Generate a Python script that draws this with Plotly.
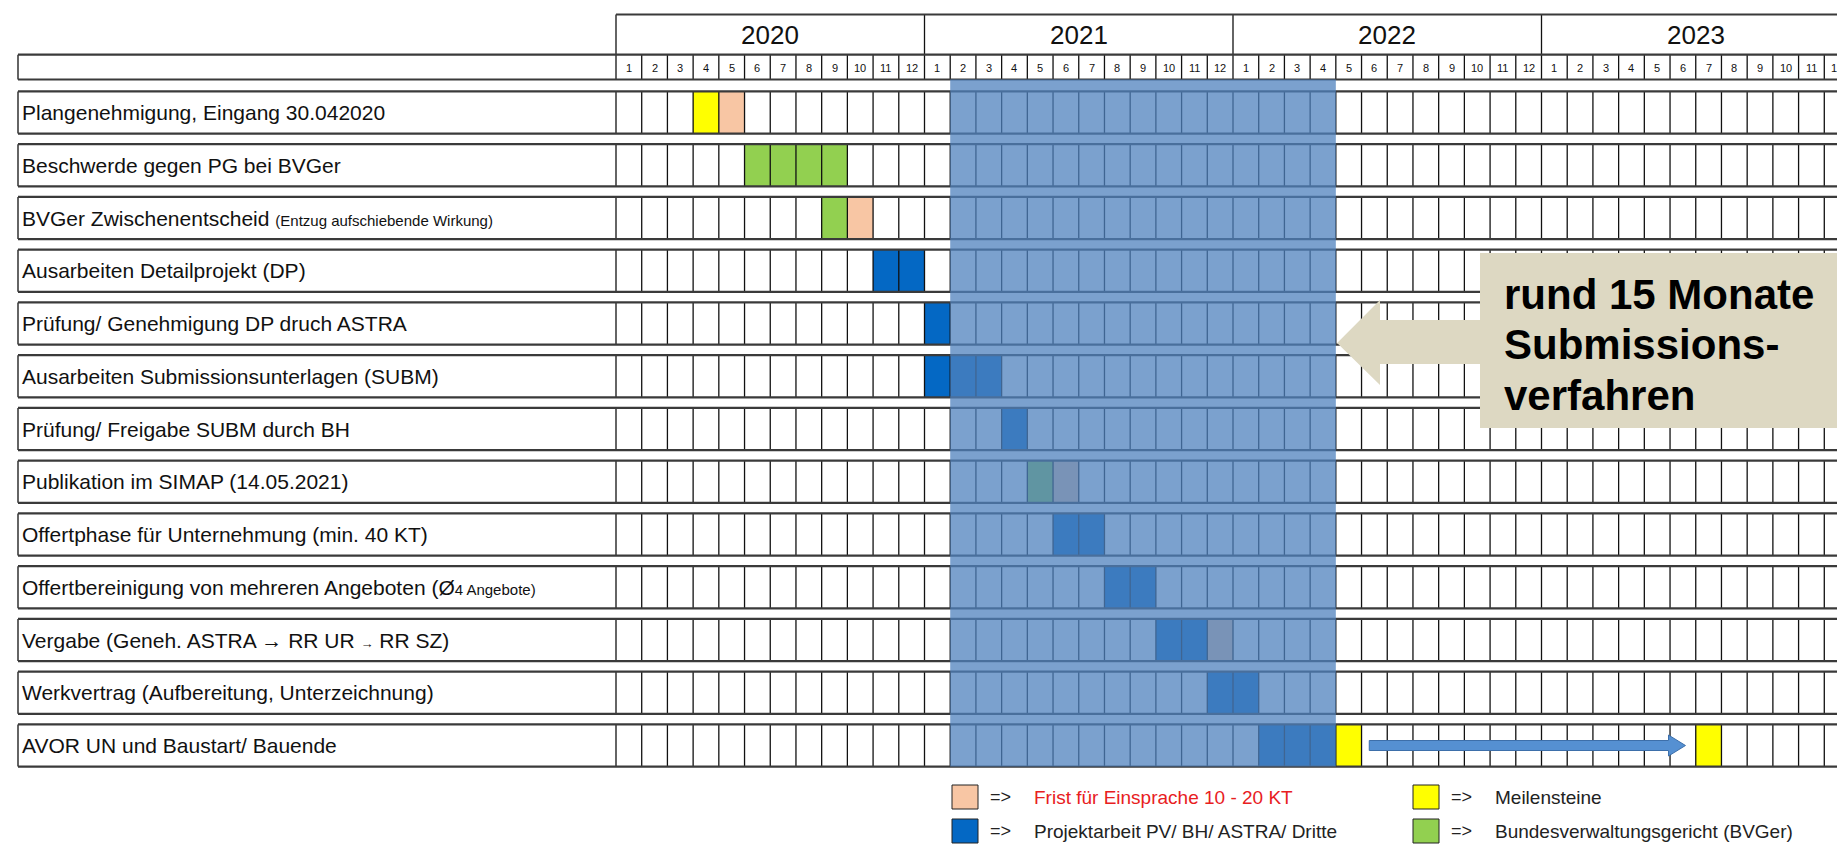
import plotly.graph_objects as go

# ---------------- data ----------------
years = ["2020", "2021", "2022", "2023"]
month_labels = [str(m) for m in range(1, 13)] * 4

tasks = [
    "Plangenehmigung, Eingang 30.042020",
    "Beschwerde gegen PG bei BVGer",
    "BVGer Zwischenentscheid <span style='font-size:15px'>(Entzug aufschiebende Wirkung)</span>",
    "Ausarbeiten Detailprojekt (DP)",
    "Prüfung/ Genehmigung DP druch ASTRA",
    "Ausarbeiten Submissionsunterlagen (SUBM)",
    "Prüfung/ Freigabe SUBM durch BH",
    "Publikation im SIMAP (14.05.2021)",
    "Offertphase für Unternehmung (min. 40 KT)",
    "Offertbereinigung von mehreren Angeboten (Ø<span style='font-size:15px'>4 Angebote)</span>",
    "Vergabe (Geneh. ASTRA → RR UR <span style='font-size:13px'>→</span> RR SZ)",
    "Werkvertrag (Aufbereitung, Unterzeichnung)",
    "AVOR UN und Baustart/ Bauende",
]

# cells: task index, start month index (0 = Jan 2020), length in months, kind
cell_task = [0, 0, 1, 2, 2, 3, 4, 5, 6, 7, 7, 8, 9, 10, 10, 11, 12, 12, 12]
cell_start = [3, 4, 5, 8, 9, 10, 12, 12, 15, 16, 17, 17, 19, 21, 23, 23, 25, 28, 42]
cell_len = [1, 1, 4, 1, 1, 2, 1, 3, 1, 1, 1, 2, 2, 2, 1, 2, 3, 1, 1]
cell_kind = ["M", "F", "G", "G", "F", "P", "P", "P", "P", "G", "F",
             "P", "P", "P", "F", "P", "P", "M", "M"]

kind_color = {"F": "#F8C6A4", "P": "#0468C4", "M": "#FFFF00", "G": "#92D050"}

# Submission period (highlight), months
subm_start, subm_end = 13, 28
callout_lines = ["rund 15 Monate", "Submissions-", "verfahren"]

# construction arrow in last row (months)
bau_from, bau_to = 29.3, 41.6

legend_items = [
    ("F", "Frist für Einsprache 10 - 20 KT", "#E8201E"),
    ("M", "Meilensteine", "#222222"),
    ("P", "Projektarbeit PV/ BH/ ASTRA/ Dritte", "#222222"),
    ("G", "Bundesverwaltungsgericht (BVGer)", "#222222"),
]

# ---------------- geometry ----------------
W, H = 1845, 844
mw = (1842 - 608) / 48.0       # px per month
x0px = 608
pitch = 52.75                  # px per row
r0px = 104.5                   # centre of first row in px
half = 0.40
lab_left = (10 - x0px) / mw
nmon = 48


def py(px):
    return (px - r0px) / pitch


def mx(px):
    return (px - x0px) / mw


year_top, year_bot, mon_bot = py(6.5), py(46.7), py(71.5)

FONT = "Liberation Sans, Arial, sans-serif"
fig = go.Figure()

# cells as bars
for k in ["F", "P", "M", "G"]:
    idx = [i for i, kk in enumerate(cell_kind) if kk == k]
    fig.add_trace(go.Bar(
        orientation="h",
        y=[cell_task[i] for i in idx],
        x=[cell_len[i] for i in idx],
        base=[cell_start[i] for i in idx],
        width=2 * half,
        marker=dict(color=kind_color[k], line=dict(width=0)),
        showlegend=False, hoverinfo="skip",
    ))

# grid lines
vx, vy, hx, hy = [], [], [], []
for r in range(len(tasks)):
    for m in [lab_left] + list(range(nmon + 1)):
        vx += [m, m, None]
        vy += [r - half, r + half, None]
    for yy in (r - half, r + half):
        hx += [lab_left, nmon, None]
        hy += [yy, yy, None]
# header month row
for m in [lab_left] + list(range(nmon + 1)):
    vx += [m, m, None]
    vy += [year_bot, mon_bot, None]
for yy in (year_bot, mon_bot):
    hx += [lab_left, nmon, None]
    hy += [yy, yy, None]
# header year row
for m in range(0, nmon + 1, 12):
    vx += [m, m, None]
    vy += [year_top, year_bot, None]
hx += [0, nmon, None]
hy += [year_top, year_top, None]

fig.add_trace(go.Scatter(x=vx, y=vy, mode="lines",
                         line=dict(color="#111111", width=1.3),
                         showlegend=False, hoverinfo="skip"))
fig.add_trace(go.Scatter(x=hx, y=hy, mode="lines",
                         line=dict(color="#3a3a3a", width=2.2),
                         showlegend=False, hoverinfo="skip"))

shapes = []
# highlight overlay
shapes.append(dict(type="rect", xref="x", yref="y", x0=subm_start, x1=subm_end,
                   y0=mon_bot, y1=len(tasks) - 1 + half,
                   fillcolor="rgba(79,129,189,0.75)", line=dict(width=0), layer="above"))

# callout (box + left arrow)
tip_x = subm_end + 0.05
head_x = mx(1372)
box_x = mx(1472)
box_r = mx(W) + 0.5
bt, bb = py(245), py(420)
ht, hb = py(292), py(377)
st, sb = py(312), py(356)
tip_y = py(335)
path = (f"M {tip_x},{tip_y} L {head_x},{ht} L {head_x},{st} L {box_x},{st} L {box_x},{bt} "
        f"L {box_r},{bt} L {box_r},{bb} L {box_x},{bb} L {box_x},{sb} L {head_x},{sb} "
        f"L {head_x},{hb} Z")
shapes.append(dict(type="path", xref="x", yref="y", path=path,
                   fillcolor="#DDD8C2", line=dict(width=0), layer="above"))

# construction arrow
ar = len(tasks) - 1
sh_h, hd_h, hd_len = 5 / pitch, 10.5 / pitch, 0.66
apath = (f"M {bau_from},{ar - sh_h} L {bau_to - hd_len},{ar - sh_h} L {bau_to - hd_len},{ar - hd_h} "
         f"L {bau_to},{ar} L {bau_to - hd_len},{ar + hd_h} L {bau_to - hd_len},{ar + sh_h} "
         f"L {bau_from},{ar + sh_h} Z")
shapes.append(dict(type="path", xref="x", yref="y", path=apath,
                   fillcolor="#5590D2", line=dict(color="#3D6FAA", width=1), layer="above"))

annotations = []
# years
for i, y in enumerate(years):
    annotations.append(dict(x=6 + 12 * i, y=(year_top + year_bot) / 2, text=y,
                            showarrow=False, font=dict(family=FONT, size=26, color="#111")))
# months
for i, m in enumerate(month_labels):
    annotations.append(dict(x=i + 0.5, y=(year_bot + mon_bot) / 2 + 0.02, text=m,
                            showarrow=False, font=dict(family=FONT, size=11, color="#111")))
# task labels
for r, t in enumerate(tasks):
    annotations.append(dict(x=mx(12), y=r, text=t, xanchor="left",
                            showarrow=False, font=dict(family=FONT, size=21, color="#111")))
# callout text
for line, ypx in zip(callout_lines, [286, 336, 387]):
    annotations.append(dict(x=mx(1494), y=py(ypx), text=f"<b>{line}</b>",
                            xanchor="left", showarrow=False,
                            font=dict(family=FONT, size=42, color="#000")))

# legend
leg_x = [mx(944), mx(1405)]
leg_y = [py(789), py(823)]
sw_w = 26 / mw
sw_h = 12 / pitch
for i, (k, label, col) in enumerate(legend_items):
    cx = leg_x[i % 2]
    cy = leg_y[i // 2]
    shapes.append(dict(type="rect", xref="x", yref="y", x0=cx, x1=cx + sw_w,
                       y0=cy - sw_h, y1=cy + sw_h, fillcolor=kind_color[k],
                       line=dict(color="#222", width=1)))
    annotations.append(dict(x=cx + 36 / mw, y=cy, text="=>", xanchor="left", showarrow=False,
                            font=dict(family=FONT, size=18, color="#222")))
    annotations.append(dict(x=cx + 80 / mw, y=cy, text=label, xanchor="left", showarrow=False,
                            font=dict(family=FONT, size=19, color=col)))

fig.update_layout(
    width=W, height=H, margin=dict(l=0, r=0, t=0, b=0),
    paper_bgcolor="white", plot_bgcolor="white",
    barmode="overlay", bargap=0,
    xaxis=dict(range=[-x0px / mw, (W - x0px) / mw], visible=False, fixedrange=True),
    yaxis=dict(range=[(H - r0px) / pitch, -r0px / pitch], visible=False, fixedrange=True),
    shapes=shapes, annotations=annotations, showlegend=False,
)

fig.write_html("out.html")
